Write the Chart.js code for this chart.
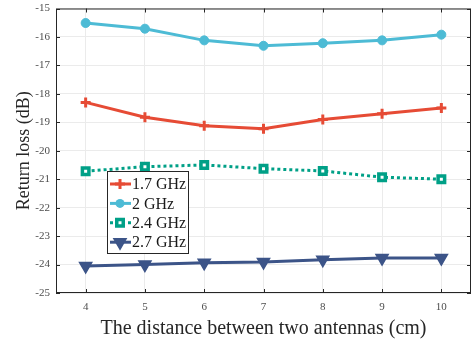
<!DOCTYPE html>
<html><head><meta charset="utf-8">
<script src="https://cdn.jsdelivr.net/npm/chart.js@4/dist/chart.umd.min.js"></script>
<style>html,body{margin:0;padding:0;background:#fff;overflow:hidden}</style>
</head><body>
<canvas id="c" width="472" height="342"></canvas>
<script>
const distances = [4, 5, 6, 7, 8, 9, 10];
const seriesLabels = ['1.7 GHz', '2 GHz', '2.4 GHz', '2.7 GHz'];
const rl17 = [-18.3, -18.82, -19.12, -19.23, -18.9, -18.7, -18.5];
const rl20 = [-15.51, -15.71, -16.12, -16.31, -16.22, -16.12, -15.92];
const rl24 = [-20.72, -20.56, -20.5, -20.63, -20.71, -20.93, -21.0];
const rl27 = [-24.05, -24.0, -23.94, -23.91, -23.83, -23.77, -23.77];
const xTickValues = [4, 5, 6, 7, 8, 9, 10];
const yTickValues = [-25, -24, -23, -22, -21, -20, -19, -18, -17, -16, -15];

const colors = ['#E64B35', '#4DBBD5', '#00A087', '#3C5488'];
const serif = "'Liberation Serif', 'DejaVu Serif', serif";
const axisColor = '#262626';

function pts(arr) { return distances.map((d, i) => ({x: d, y: arr[i]})); }

const datasets = [
  {label: seriesLabels[0], data: pts(rl17), borderColor: colors[0], backgroundColor: colors[0],
   borderWidth: 3, pointStyle: 'cross', pointRadius: 5, pointBorderWidth: 3, mk: 'cross'},
  {label: seriesLabels[1], data: pts(rl20), borderColor: colors[1], backgroundColor: colors[1],
   borderWidth: 3, pointStyle: 'circle', pointRadius: 4.5, pointBorderWidth: 1, mk: 'circle'},
  {label: seriesLabels[2], data: pts(rl24), borderColor: colors[2], backgroundColor: '#ffffff',
   borderWidth: 3, borderDash: [3, 3], pointStyle: 'rect', pointRadius: 4.6, pointBorderWidth: 3.5, mk: 'rect'},
  {label: seriesLabels[3], data: pts(rl27), borderColor: colors[3], backgroundColor: colors[3],
   borderWidth: 3, pointStyle: 'triangle', pointRotation: 180, pointRadius: 7, pointBorderWidth: 1.5, mk: 'tri'}
];
datasets.forEach(d => { d.tension = 0; d.fill = false; d.pointBorderColor = d.borderColor; d.pointBackgroundColor = d.backgroundColor; });

function drawMarker(ctx, type, x, y, color) {
  ctx.save();
  ctx.setLineDash([]);
  ctx.strokeStyle = color; ctx.fillStyle = color;
  if (type === 'cross') {
    ctx.lineWidth = 3;
    ctx.beginPath(); ctx.moveTo(x - 5, y); ctx.lineTo(x + 5, y); ctx.moveTo(x, y - 5); ctx.lineTo(x, y + 5); ctx.stroke();
  } else if (type === 'circle') {
    ctx.beginPath(); ctx.arc(x, y, 4.5, 0, Math.PI * 2); ctx.fill();
  } else if (type === 'rect') {
    ctx.lineWidth = 3.5; ctx.fillStyle = '#fff';
    ctx.beginPath(); ctx.rect(x - 3.25, y - 3.25, 6.5, 6.5); ctx.fill(); ctx.stroke();
  } else if (type === 'tri') {
    const r = 7;
    ctx.lineWidth = 1.5;
    ctx.beginPath();
    ctx.moveTo(x, y + r);
    ctx.lineTo(x - r * Math.sin(Math.PI / 3), y - r / 2);
    ctx.lineTo(x + r * Math.sin(Math.PI / 3), y - r / 2);
    ctx.closePath(); ctx.fill(); ctx.stroke();
  }
  ctx.restore();
}

const framePlugin = {
  id: 'frame',
  afterLayout(chart) {
    // stretch plot area to the right edge like the reference
    const a = chart.chartArea;
    const targetRight = chart.width - 1;
    a.right = targetRight;
    a.width = a.right - a.left;
    const xs = chart.scales.x;
    xs.right = targetRight;
    xs.width = xs.right - xs.left;
    xs.configure();
  },
  afterDatasetsDraw(chart) {
    const {ctx, chartArea: a, scales} = chart;
    ctx.save();
    ctx.strokeStyle = axisColor; ctx.lineWidth = 1;
    ctx.strokeRect(a.left + 0.5, a.top + 0.5, a.right - a.left - 1, a.bottom - a.top - 1);
    ctx.beginPath();
    scales.y.ticks.forEach(t => {
      const py = Math.round(scales.y.getPixelForValue(t.value)) + 0.5;
      ctx.moveTo(a.left, py); ctx.lineTo(a.left + 4, py);
      ctx.moveTo(a.right, py); ctx.lineTo(a.right - 4, py);
    });
    scales.x.ticks.forEach(t => {
      const px = Math.round(scales.x.getPixelForValue(t.value)) + 0.5;
      ctx.moveTo(px, a.bottom); ctx.lineTo(px, a.bottom - 4);
      ctx.moveTo(px, a.top); ctx.lineTo(px, a.top + 4);
    });
    ctx.stroke();
    ctx.restore();
  },
  afterDraw(chart) {
    const ctx = chart.ctx;
    const bx = 107, by = 171, bw = 81, bh = 82;
    ctx.save();
    ctx.fillStyle = '#fff';
    ctx.fillRect(bx, by, bw, bh);
    ctx.strokeStyle = axisColor; ctx.lineWidth = 1;
    ctx.strokeRect(bx + 0.5, by + 0.5, bw, bh);
    ctx.font = "16px " + serif;
    ctx.textBaseline = 'middle';
    chart.data.datasets.forEach((d, i) => {
      const y = by + 13 + i * 19.4;
      ctx.save();
      ctx.strokeStyle = d.borderColor; ctx.lineWidth = 3;
      if (d.borderDash) ctx.setLineDash(d.borderDash);
      ctx.beginPath(); ctx.moveTo(110, y); ctx.lineTo(131, y); ctx.stroke();
      ctx.restore();
      drawMarker(ctx, d.mk, 120, y, d.borderColor);
      ctx.fillStyle = '#1a1a1a';
      ctx.fillText(d.label, 132, y + 1);
    });
    ctx.restore();
  }
};

new Chart(document.getElementById('c'), {
  type: 'line',
  data: {datasets},
  options: {
    responsive: false, animation: false, devicePixelRatio: 1,
    layout: {padding: {top: 5, right: 1, left: 0, bottom: 0}},
    plugins: {legend: {display: false}, tooltip: {enabled: false}},
    scales: {
      x: {
        type: 'linear', min: 3.5, max: 10.5,
        afterBuildTicks: s => { s.ticks = xTickValues.map(v => ({value: v})); },
        afterFit: s => { s.height = 49; s.paddingLeft = 0; s.paddingRight = 0; },
        grid: {color: '#ebebeb', drawTicks: false},
        border: {display: false},
        ticks: {font: {family: serif, size: 11}, color: '#4d4d4d', padding: 8, maxRotation: 0},
        title: {display: true, text: 'The distance between two antennas (cm)', font: {family: serif, size: 20}, color: axisColor, padding: {top: 0, bottom: 1}}
      },
      y: {
        type: 'linear', min: -25, max: -15,
        afterBuildTicks: s => { s.ticks = yTickValues.map(v => ({value: v})); },
        afterFit: s => { s.width = 56; s.paddingTop = 0; s.paddingBottom = 0; },
        grid: {color: '#ebebeb', drawTicks: false},
        border: {display: false},
        ticks: {font: {family: serif, size: 11}, color: '#4d4d4d', padding: 6},
        title: {display: true, text: 'Return loss (dB)', font: {family: serif, size: 18}, color: axisColor, padding: {top: 13, bottom: 0}}
      }
    }
  },
  plugins: [framePlugin]
});
</script>
</body></html>
